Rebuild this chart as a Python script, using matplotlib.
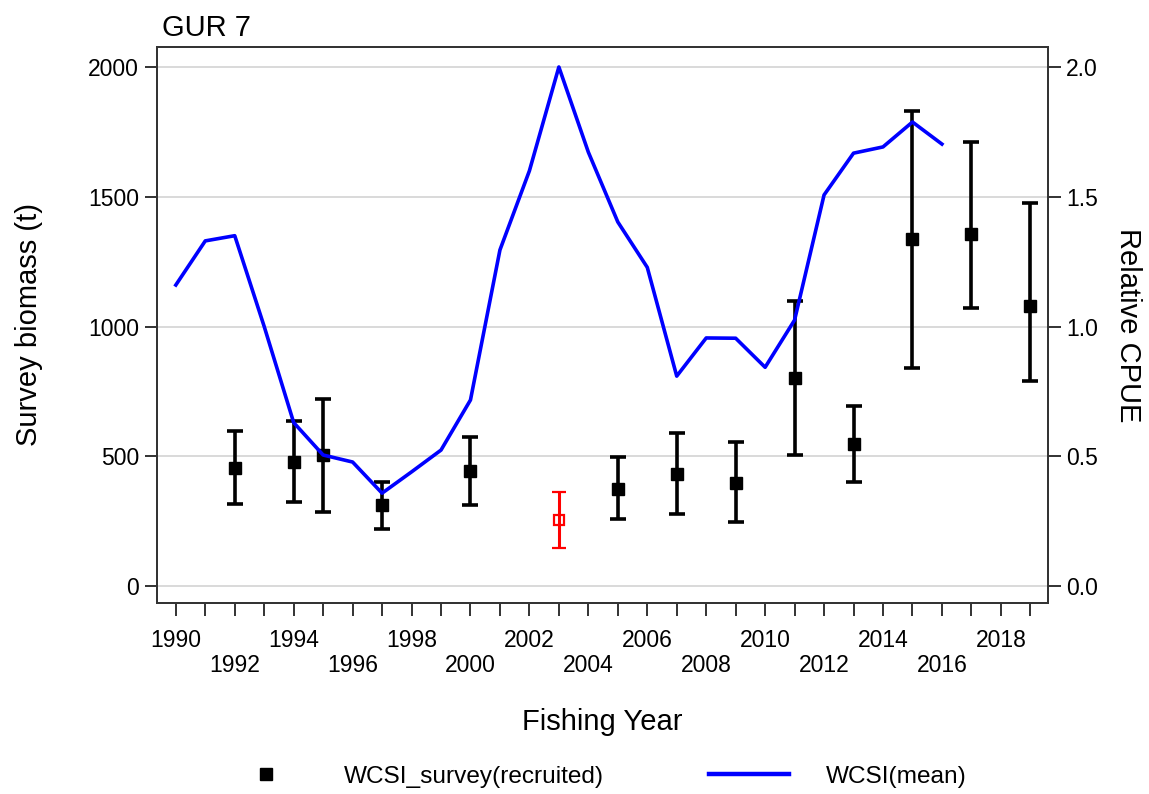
import matplotlib
matplotlib.use("Agg")
import matplotlib.pyplot as plt
from matplotlib.lines import Line2D

plt.rcParams["font.family"] = ["Liberation Sans", "DejaVu Sans"]

# --------------------------------------------------
# DATA
# --------------------------------------------------
# WCSI CPUE (right axis), fishing years 1990-2016
cpue_years = list(range(1990, 2017))
cpue_mean = [1.16, 1.33, 1.35, 1.00, 0.63, 0.505, 0.478, 0.358, 0.44, 0.524,
             0.717, 1.295, 1.60, 2.00, 1.672, 1.403, 1.228, 0.809, 0.956, 0.955,
             0.843, 1.025, 1.507, 1.668, 1.692, 1.788, 1.703]

# WCSI survey biomass (left axis)
survey_years = [1992, 1994, 1995, 1997, 2000, 2005, 2007, 2009, 2011, 2013, 2015, 2017, 2019]
survey_biomass = [455, 478, 505, 312, 443, 374, 432, 397, 802, 547, 1337, 1356, 1079]
survey_lower = [316, 324, 285, 220, 312, 258, 277, 247, 505, 401, 840, 1071, 790]
survey_upper = [597, 636, 721, 401, 574, 497, 590, 555, 1098, 694, 1830, 1711, 1476]

# 2003 survey shown separately in red
odd_year = [2003]
odd_biomass = [254]
odd_lower = [146]
odd_upper = [362]

# x tick labels: two staggered rows
upper_row_years = list(range(1990, 2019, 4))   # 1990, 1994, ... 2018
lower_row_years = list(range(1992, 2019, 4))   # 1992, 1996, ... 2016
all_years = list(range(1990, 2020))

ylabel_left = "Survey biomass (t)"
ylabel_right = "Relative CPUE"
xlabel = "Fishing Year"
title = "GUR 7"

# --------------------------------------------------
# FIGURE
# --------------------------------------------------
fig = plt.figure(figsize=(11.49, 7.94), dpi=100)
ax = fig.add_axes([0.1366, 0.2406, 0.7755, 0.7002])

err_lo = [b - l for b, l in zip(survey_biomass, survey_lower)]
err_hi = [u - b for b, u in zip(survey_biomass, survey_upper)]
ax.errorbar(survey_years, survey_biomass, yerr=[err_lo, err_hi], fmt="s",
            color="black", ms=8, elinewidth=2.6, capsize=5.5, capthick=2.6, zorder=3)

odd_lo = [b - l for b, l in zip(odd_biomass, odd_lower)]
odd_hi = [u - b for b, u in zip(odd_biomass, odd_upper)]
ax.errorbar(odd_year, odd_biomass, yerr=[odd_lo, odd_hi], fmt="s", color="red",
            mfc="none", mec="red", ms=7.5, mew=1.6, elinewidth=2.2, capsize=5, capthick=2.2,
            zorder=3)

ax.set_xlim(1989.36, 2019.6)
ax.set_ylim(-65, 2077)
ax.set_yticks([0, 500, 1000, 1500, 2000])
ax.yaxis.grid(True, color="#d9d9d9", linewidth=1.4)
ax.set_axisbelow(True)

# upper row on major ticks, lower row on minor ticks (every year ticked)
ax.set_xticks(upper_row_years)
ax.set_xticklabels([str(y) for y in upper_row_years])
minor_years = [y for y in all_years if y not in upper_row_years]
ax.set_xticks(minor_years, minor=True)
ax.set_xticklabels([str(y) if y in lower_row_years else "" for y in minor_years], minor=True)

ax.tick_params(axis="both", which="both", direction="out", length=9, width=1.3,
               colors="#222222", labelcolor="black", labelsize=16.5)
ax.tick_params(axis="y", pad=4)
ax.tick_params(axis="x", which="major", pad=10)
ax.tick_params(axis="x", which="minor", pad=28)

ax.set_ylabel(ylabel_left, fontsize=21, labelpad=32)
ax.set_xlabel(xlabel, fontsize=21, labelpad=22)
ax.set_title(title, fontsize=21, loc="left", pad=8, x=0.006)

for s in ax.spines.values():
    s.set_linewidth(1.3)
    s.set_color("#333333")

# --------------------------------------------------
# CPUE ON RIGHT AXIS
# --------------------------------------------------
ax2 = ax.twinx()
ax2.plot(cpue_years, cpue_mean, color="#0000ff", linewidth=2.6)
lo, hi = ax.get_ylim()
ax2.set_ylim(lo / 1000, hi / 1000)
ax2.set_yticks([0.0, 0.5, 1.0, 1.5, 2.0])
ax2.set_yticklabels(["0.0", "0.5", "1.0", "1.5", "2.0"])
ax2.tick_params(axis="y", direction="out", length=9, width=1.3, colors="#222222",
                labelcolor="black", labelsize=16.5, pad=4)
ax2.set_ylabel(ylabel_right, fontsize=21, rotation=270, labelpad=32)
for s in ax2.spines.values():
    s.set_linewidth(1.3)
    s.set_color("#333333")

# --------------------------------------------------
# LEGEND
# --------------------------------------------------
handles = [
    Line2D([], [], marker="s", color="black", linestyle="none", markersize=8),
    Line2D([], [], color="#0000ff", linewidth=3.2),
]
fig.legend(handles, ["WCSI_survey(recruited)", "WCSI(mean)"], loc="center",
           bbox_to_anchor=(0.519, 0.022), ncol=2, frameon=False, fontsize=17.6,
           handlelength=3.3, handletextpad=1.5, columnspacing=4.3)

fig.savefig("out.png", dpi=100)
